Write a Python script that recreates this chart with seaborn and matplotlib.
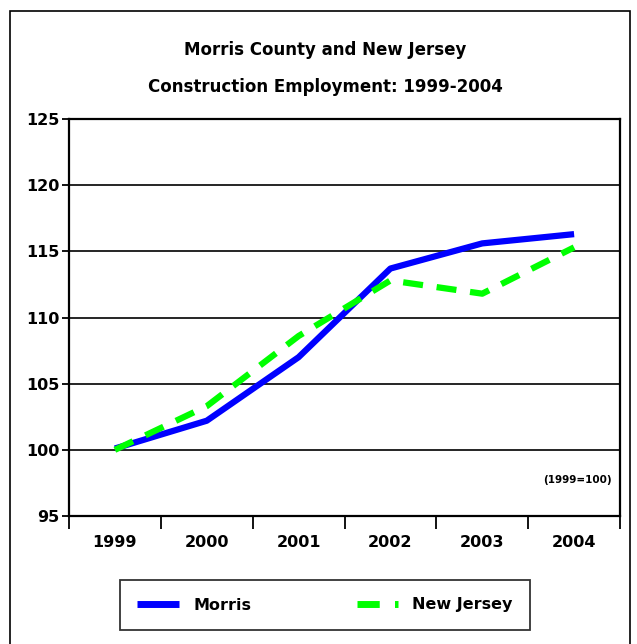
import matplotlib
matplotlib.use("Agg")
import matplotlib.pyplot as plt
import matplotlib.patches as mpatches
import seaborn as sns
import pandas as pd

# data
years = ["1999", "2000", "2001", "2002", "2003", "2004"]
morris = [100.1, 102.2, 107.0, 113.7, 115.6, 116.3]
new_jersey = [100.0, 103.3, 108.6, 112.8, 111.8, 115.3]

sns.set_style("white")
plt.rcParams['font.family'] = ['DejaVu Sans']
plt.rcParams['text.color'] = 'black'
plt.rcParams['xtick.color'] = 'black'
plt.rcParams['ytick.color'] = 'black'
plt.rcParams['lines.solid_capstyle'] = 'butt'
plt.rcParams['lines.dash_capstyle'] = 'butt'

df = pd.DataFrame({
    "pos": list(range(len(years))) * 2,
    "value": morris + new_jersey,
    "series": ["Morris"] * len(years) + ["New Jersey"] * len(years),
})

fig = plt.figure(figsize=(6.37, 6.44), dpi=100)
ax = fig.add_axes([69 / 637, 1 - 516 / 644, 551 / 637, 397 / 644])

# horizontal grid first so the lines sit on top
for v in [100, 105, 110, 115, 120]:
    ax.axhline(v, color="black", lw=1.2, zorder=1)

sns.lineplot(data=df, x="pos", y="value", hue="series", style="series",
             palette={"Morris": "#0000ff", "New Jersey": "#00ff00"},
             dashes={"Morris": "", "New Jersey": (3.2, 2.2)},
             linewidth=4.5, ax=ax, zorder=3, legend=False)

ax.set_xlim(-0.5, 5.5)
ax.set_ylim(95, 125)
ax.set_xlabel("")
ax.set_ylabel("")

ax.set_xticks(range(len(years)))
ax.set_xticklabels(years, fontsize=11.5, fontweight="bold")
ax.set_xticks([i - 0.5 for i in range(len(years) + 1)], minor=True)
ax.tick_params(axis="x", which="major", bottom=True, length=0, pad=14)
ax.tick_params(axis="x", which="minor", bottom=True, length=9, width=1.3, direction="out")
ax.set_yticks([95, 100, 105, 110, 115, 120, 125])
ax.set_yticklabels(["95", "100", "105", "110", "115", "120", "125"], fontsize=11.5, fontweight="bold")
ax.tick_params(axis="y", left=True, length=5, width=1.3, direction="out", pad=2)

for s in ax.spines.values():
    s.set_color("black")
    s.set_linewidth(1.6)

ax.text(0.985, 0.09, "(1999=100)", transform=ax.transAxes, ha="right", va="center",
        fontsize=7.5, fontweight="bold")

fig.text(325 / 637, 1 - 50 / 644, "Morris County and New Jersey", ha="center", va="center",
         fontsize=12, fontweight="bold")
fig.text(325 / 637, 1 - 87 / 644, "Construction Employment: 1999-2004", ha="center", va="center",
         fontsize=12, fontweight="bold")

# legend box
handles = [plt.Line2D([], [], color="#0000ff", lw=5, solid_capstyle="butt"),
           plt.Line2D([], [], color="#00ff00", lw=5, dashes=(3.2, 2.2), dash_capstyle="butt")]
leg = fig.legend(handles, ["Morris", "New Jersey"], loc="center",
                 bbox_to_anchor=(325 / 637, 1 - 605 / 644), ncol=2, frameon=True,
                 fancybox=False, edgecolor="black", handlelength=2.6, columnspacing=6.6,
                 borderpad=1.1, borderaxespad=0, handletextpad=0.9,
                 prop={"weight": "bold", "size": 11.5})
leg.get_frame().set_linewidth(1.3)

# outer border of the chart area
fig.patches.append(mpatches.Rectangle((10 / 637, -0.05), 620 / 637, 1 - 11 / 644 + 0.05,
                                      transform=fig.transFigure, fill=False,
                                      edgecolor="black", lw=1.2))

fig.savefig("out.png", dpi=100)
